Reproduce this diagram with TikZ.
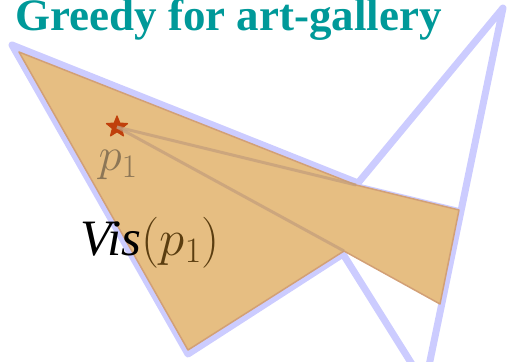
\RequirePackage{fix-cm}
\documentclass[tikz,border=0pt]{standalone}
\usepackage{fontspec}
\newfontfamily\titlefont{Liberation Serif}
\usetikzlibrary{shapes.geometric}
\definecolor{gallery}{HTML}{CCCCFF}
\definecolor{visfill}{HTML}{E6BE82}
\definecolor{visedge}{HTML}{D2A076}
\definecolor{rayc}{HTML}{C29C7C}
\definecolor{titlec}{HTML}{009999}
\definecolor{starc}{HTML}{C0400C}
\definecolor{plabel}{HTML}{8C7656}
\definecolor{visparen}{HTML}{5A3D10}
\tikzset{
  gallerystyle/.style={draw=gallery,line width=7pt,line join=round},
  visstyle/.style={fill=visfill,draw=visedge,line width=1.5pt,line join=round},
  raystyle/.style={draw=rayc,line width=3pt,opacity=0.7},
  starstyle/.style={star,star points=5,star point ratio=2.3,fill=starc,draw=starc,minimum size=22pt,inner sep=0pt,line join=round,line width=1.2pt},
}
\begin{document}
\begin{tikzpicture}[x=1pt,y=-1pt]
\useasboundingbox (0,0) rectangle (508,361);
\clip (0,0) rectangle (508,361);
% gallery polygon
\coordinate (A) at (12,45);
\coordinate (R1) at (358,183);
\coordinate (T) at (503,8);
\coordinate (B) at (425,385);
\coordinate (R2) at (343,254);
\coordinate (C) at (188,354);
\draw[gallerystyle] (A) -- (R1) -- (T) -- (B) -- (R2) -- (C) -- cycle;
% visibility polygon
\coordinate (O1) at (19,52);
\coordinate (O2) at (356,185);
\coordinate (O3) at (459,210);
\coordinate (O4) at (440,304);
\coordinate (O5) at (344,251);
\coordinate (O6) at (188,350);
\draw[gallery,line width=4pt] (O2) -- (O3);
\draw[black!60,line width=3pt,opacity=0.35] ([yshift=2pt]O4) -- ([yshift=2pt]O5);
\draw[visstyle] (O1) -- (O2) -- (O3) -- (O4) -- (O5) -- (O6) -- cycle;
% point and rays
\node[starstyle] (p) at (117,127) {};
\draw[raystyle] (p.center) -- (O2);
\draw[raystyle] (p.center) -- (O5);
% labels
\node[text=plabel,font=\fontsize{47}{52}\selectfont,inner sep=0pt,anchor=base] (pl) at (118,170) {$p_1$};
\node[font=\fontsize{51}{56}\selectfont,inner sep=0pt,anchor=base] (vl) at (150,255) {{\titlefont\itshape Vis}\textcolor{visparen}{$(p_1)$}};
\node[text=titlec,font=\titlefont\bfseries\fontsize{45}{50}\selectfont,inner sep=0pt,anchor=base west] (title) at (15,31) {Greedy for art-gallery};
\end{tikzpicture}
\end{document}
